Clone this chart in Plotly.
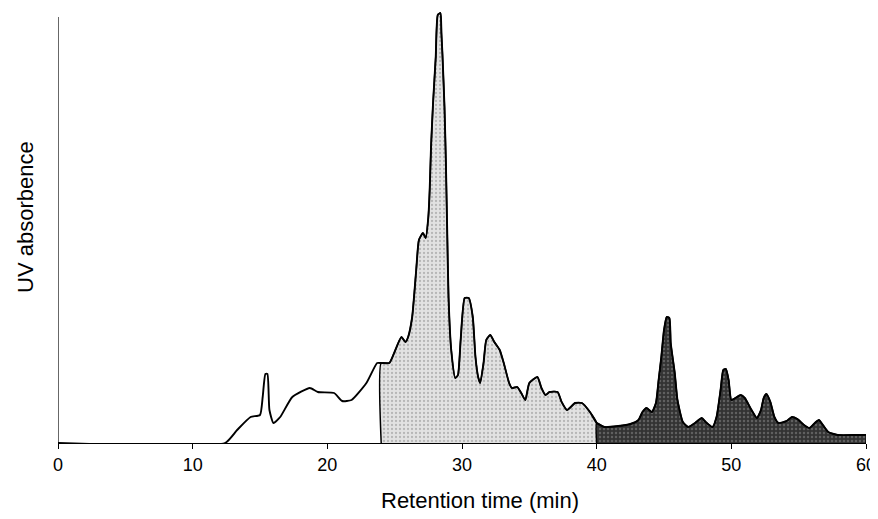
import plotly.graph_objects as go

# Retention time (min) and UV absorbance (arbitrary units)
time_min = [0, 12.4, 13.3, 14.3, 15.0, 15.2, 15.4, 15.55, 15.7, 16.0, 16.5, 17.4, 18.7, 19.3,
            20.5, 21.1, 21.8, 22.9, 23.7, 24.0, 24.6, 24.9, 25.5, 25.8, 26.0, 26.3, 26.6,
            26.8, 27.1, 27.3, 27.5, 27.6, 27.7, 27.85, 28.05, 28.2, 28.4, 28.47, 28.55, 28.7,
            28.8, 28.9, 29.0, 29.2, 29.5, 29.7, 29.9, 30.2, 30.5, 30.8, 31.0, 31.2, 31.35,
            31.6, 31.8, 32.1, 32.4, 32.8, 33.1, 33.5, 33.7, 34.1, 34.4, 34.7, 35.0, 35.6,
            35.9, 36.2, 36.5, 37.1, 37.4, 37.8, 38.4, 38.9, 39.5, 40.0, 40.6, 41.6, 42.5,
            43.1, 43.4, 43.7, 44.1, 44.4, 44.6, 44.8, 45.0, 45.2, 45.4, 45.5, 45.8, 46.0,
            46.4, 46.8, 47.3, 47.8, 48.1, 48.6, 48.9, 49.2, 49.4, 49.6, 49.8, 50.0, 50.3,
            50.7, 51.0, 51.5, 51.9, 52.2, 52.4, 52.6, 52.9, 53.2, 53.5, 54.1, 54.5, 54.9,
            55.4, 55.8, 56.2, 56.5, 56.8, 57.2, 57.9, 59.3, 60.0]
absorbance = [0, 0, 13, 26, 28, 46, 69, 69, 33, 20, 26, 46, 55, 51,
              50, 42, 43, 60, 80, 80, 80, 88, 106, 101, 106, 126, 173,
              203, 210, 205, 226, 253, 296, 340, 386, 428, 430, 410, 388, 336,
              283, 213, 146, 93, 65, 68, 103, 145, 145, 126, 86, 66, 60,
              80, 103, 108, 101, 93, 80, 60, 55, 56, 50, 43, 60, 66,
              55, 48, 51, 51, 41, 33, 40, 40, 31, 20, 16, 17, 19,
              23, 31, 35, 31, 40, 63, 86, 113, 126, 125, 100, 70, 43,
              21, 16, 20, 25, 21, 16, 26, 53, 73, 74, 63, 43, 45,
              48, 45, 33, 25, 33, 45, 49, 41, 26, 20, 22, 26, 24,
              18, 15, 20, 23, 18, 11, 8, 8, 8]

fraction_bounds = [24.0, 40.0, 60.0]   # fractions: 24-40 (light), 40-60 (dark)
x_ticks = [0, 10, 20, 30, 40, 50, 60]
x_title = "Retention time (min)"
y_title = "UV absorbence"

def segment(lo, hi):
    xs = [t for t in time_min if lo <= t <= hi]
    ys = [a for t, a in zip(time_min, absorbance) if lo <= t <= hi]
    return [lo] + xs + [hi], [0] + ys + [0]

fig = go.Figure()

sx, sy = segment(fraction_bounds[0], fraction_bounds[1])
fig.add_trace(go.Scatter(
    x=sx, y=sy, mode="lines", fill="toself",
    fillcolor="#dedede",
    fillpattern=dict(shape=".", size=4, solidity=0.25, fgcolor="#8a8a8a", bgcolor="#e2e2e2"),
    line=dict(color="black", width=1.5, shape="spline", smoothing=0.5),
    hoverinfo="skip", showlegend=False))

dx, dy = segment(fraction_bounds[1], fraction_bounds[2])
fig.add_trace(go.Scatter(
    x=dx, y=dy, mode="lines", fill="toself",
    fillcolor="#4a4a4a",
    fillpattern=dict(shape=".", size=4, solidity=0.3, fgcolor="#8c8c8c", bgcolor="#333333"),
    line=dict(color="black", width=1.5, shape="spline", smoothing=0.5),
    hoverinfo="skip", showlegend=False))

fig.add_trace(go.Scatter(
    x=time_min, y=absorbance, mode="lines",
    line=dict(color="black", width=1.9, shape="spline", smoothing=0.5),
    showlegend=False))

# y axis line (stops just below the top of the tallest peak)
fig.add_shape(type="line", xref="x", yref="y", x0=0, x1=0, y0=0, y1=426,
              line=dict(color="black", width=1.2))

font = "Liberation Sans, Arial, sans-serif"
fig.add_annotation(text=x_title, xref="paper", yref="paper", x=0.522, y=-0.132,
                   xanchor="center", yanchor="middle", showarrow=False,
                   font=dict(size=22, family=font, color="black"))
fig.add_annotation(text=y_title, xref="paper", yref="paper", x=-0.041, y=0.523,
                   xanchor="center", yanchor="middle", showarrow=False, textangle=-90,
                   font=dict(size=22, family=font, color="black"))

fig.update_layout(
    width=878, height=519,
    margin=dict(l=50, r=20, t=3, b=84),
    paper_bgcolor="white", plot_bgcolor="white",
    font=dict(family=font, color="black"),
    xaxis=dict(range=[0, 60], tickvals=x_ticks, ticks="outside", ticklen=5,
               tickcolor="black", showline=True, linecolor="black", linewidth=1.2,
               showgrid=False, zeroline=False, tickfont=dict(size=18), automargin=False),
    yaxis=dict(range=[0, 432], showticklabels=False, ticks="", showline=False,
               showgrid=False, zeroline=False, automargin=False),
)

fig.write_html("out.html")
